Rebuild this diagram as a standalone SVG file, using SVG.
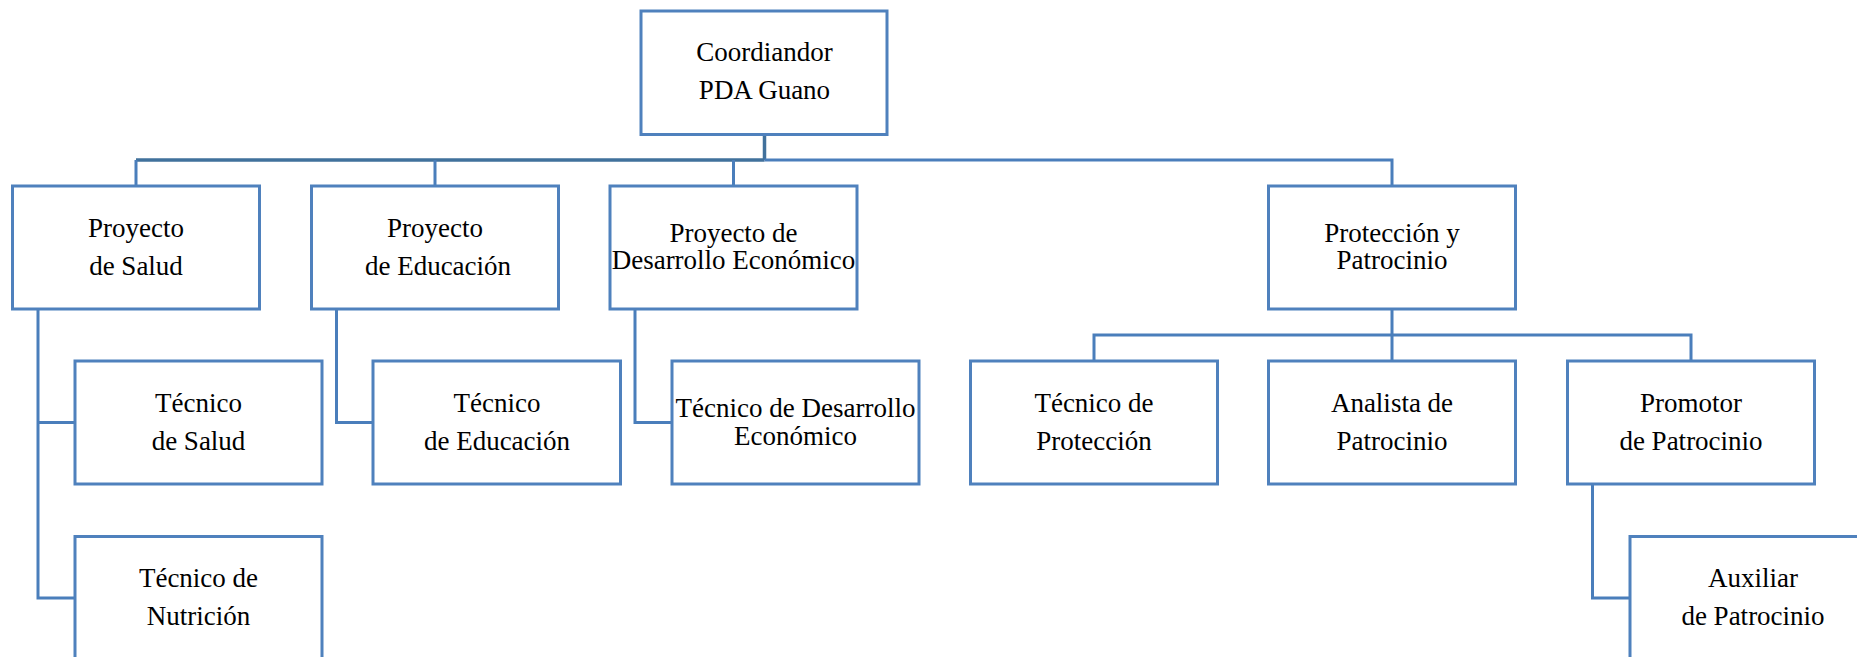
<svg xmlns="http://www.w3.org/2000/svg" width="1857" height="657" viewBox="0 0 1857 657">
<style>
.box{fill:#fff;stroke:#4F81BD;stroke-width:3}
.ln{fill:none;stroke:#4A7EBB;stroke-width:3}
.ln2{fill:none;stroke:#41719C;stroke-width:3.5}
.t{font-size:27px;fill:#000;text-anchor:middle}
</style>
<rect width="1857" height="657" fill="#fff"/>
<g id="connectors">
<path class="ln2" d="M764.5 134 V160 M136 160 H764.5"/>
<path class="ln" d="M764.5 160 H1392 V186"/>
<path class="ln" d="M136 160 V186 M435 160 V186 M733.5 160 V186"/>
<path class="ln" d="M38 309 V598 H75 M38 422.5 H75"/>
<path class="ln" d="M336.5 309 V422.5 H373"/>
<path class="ln" d="M635 309 V422.5 H672"/>
<path class="ln" d="M1392 309 V361 M1094 361 V335 H1691 V361"/>
<path class="ln" d="M1592.5 484 V598 H1630"/>
</g>
<g font-family="'Liberation Serif', 'Times New Roman', Tinos, serif">
<g id="n-coord"><rect class="box" x="641" y="11" width="246" height="123.5"/><text class="t" x="764.5" y="61">Coordiandor</text><text class="t" x="764.5" y="99">PDA Guano</text></g>
<g id="n-salud"><rect class="box" x="12.5" y="186" width="247" height="123"/><text class="t" x="136" y="237">Proyecto</text><text class="t" x="136" y="274.5">de Salud</text></g>
<g id="n-educ"><rect class="box" x="311.5" y="186" width="247" height="123"/><text class="t" x="435" y="237">Proyecto</text><text class="t" x="438" y="274.5">de Educación</text></g>
<g id="n-desa"><rect class="box" x="610" y="186" width="247" height="123"/><text class="t" x="733.5" y="241.5">Proyecto de</text><text class="t" x="733.5" y="269">Desarrollo Económico</text></g>
<g id="n-prot"><rect class="box" x="1268.5" y="186" width="247" height="123"/><text class="t" x="1392" y="241.5">Protección y</text><text class="t" x="1392" y="269">Patrocinio</text></g>
<g id="n-tsalud"><rect class="box" x="75" y="361" width="247" height="123"/><text class="t" x="198.5" y="411.5">Técnico</text><text class="t" x="198.5" y="449.5">de Salud</text></g>
<g id="n-teduc"><rect class="box" x="373" y="361" width="247.5" height="123"/><text class="t" x="497" y="411.5">Técnico</text><text class="t" x="497" y="449.5">de Educación</text></g>
<g id="n-tdesa"><rect class="box" x="672" y="361" width="247" height="123"/><text class="t" x="795.5" y="417">Técnico de Desarrollo</text><text class="t" x="795.5" y="445">Económico</text></g>
<g id="n-tprot"><rect class="box" x="970.5" y="361" width="247" height="123"/><text class="t" x="1094" y="411.5">Técnico de</text><text class="t" x="1094" y="449.5">Protección</text></g>
<g id="n-anal"><rect class="box" x="1268.5" y="361" width="247" height="123"/><text class="t" x="1392" y="411.5">Analista de</text><text class="t" x="1392" y="449.5">Patrocinio</text></g>
<g id="n-prom"><rect class="box" x="1567.5" y="361" width="247" height="123"/><text class="t" x="1691" y="411.5">Promotor</text><text class="t" x="1691" y="449.5">de Patrocinio</text></g>
<g id="n-nutr"><rect class="box" x="75" y="536.5" width="247" height="130"/><text class="t" x="198.5" y="586.5">Técnico de</text><text class="t" x="198.5" y="624.5">Nutrición</text></g>
<g id="n-aux"><rect class="box" x="1630" y="536.5" width="247" height="130"/><text class="t" x="1753" y="586.5">Auxiliar</text><text class="t" x="1753" y="624.5">de Patrocinio</text></g>
</g>
</svg>
